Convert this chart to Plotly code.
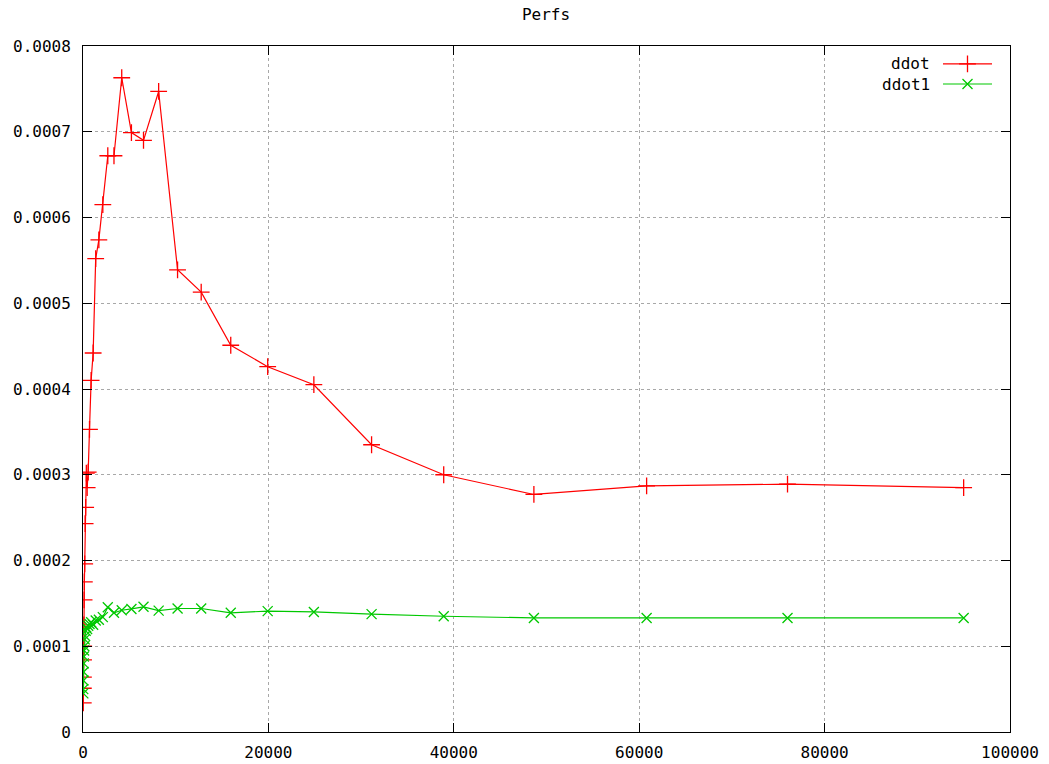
import plotly.graph_objects as go

# ---- data ----
sizes = [30, 38, 48, 60, 75, 94, 118, 147, 184, 230, 287, 359, 449, 561, 701, 876,
         1095, 1369, 1711, 2139, 2674, 3342, 4178, 5223, 6528, 8161, 10201, 12751,
         15938, 19923, 24904, 31130, 38912, 48640, 60800, 76000, 95000]
ddot = [0.000034, 0.000051, 0.000064, 0.000084, 0.000100, 0.000125, 0.000154, 0.000175,
        0.000196, 0.000243, 0.000262, 0.000302, 0.000285, 0.000303, 0.000353, 0.000410,
        0.000442, 0.000552, 0.000574, 0.000615, 0.000672, 0.000672, 0.000763, 0.000699,
        0.000690, 0.000747, 0.000539, 0.000513, 0.000451, 0.000426, 0.000405, 0.000335,
        0.000300, 0.000277, 0.000287, 0.000289, 0.000285]
ddot1 = [0.000050, 0.000045, 0.000060, 0.000070, 0.000080, 0.000088, 0.000095, 0.000100,
         0.000108, 0.000112, 0.000118, 0.000122, 0.000120, 0.000124, 0.000126, 0.000128,
         0.000125, 0.000130, 0.000131, 0.000134, 0.0001455, 0.000139, 0.000142, 0.0001435,
         0.000146, 0.0001415, 0.000144, 0.000144, 0.000139, 0.000141, 0.000140, 0.0001375,
         0.000135, 0.000133, 0.000133, 0.000133, 0.000133]
series_names = ["ddot", "ddot1"]
x_ticks = [0, 20000, 40000, 60000, 80000, 100000]
x_tick_labels = ["0", "20000", "40000", "60000", "80000", "100000"]
y_ticks = [0, 0.0001, 0.0002, 0.0003, 0.0004, 0.0005, 0.0006, 0.0007, 0.0008]
y_tick_labels = ["0", "0.0001", "0.0002", "0.0003", "0.0004", "0.0005", "0.0006", "0.0007", "0.0008"]
title = "Perfs"

RED = "#ff0000"
GREEN = "#00c800"
FONT = "DejaVu Sans Mono"

fig = go.Figure()
fig.add_trace(go.Scatter(x=sizes, y=ddot, mode="lines+markers", name=series_names[0],
                         line=dict(color=RED, width=1.2),
                         marker=dict(symbol="cross-thin-open", size=12, color=RED,
                                     line=dict(color=RED, width=1.3)),
                         showlegend=False))
fig.add_trace(go.Scatter(x=sizes, y=ddot1, mode="lines+markers", name=series_names[1],
                         line=dict(color=GREEN, width=1.2),
                         marker=dict(symbol="x-thin-open", size=10, color=GREEN,
                                     line=dict(color=GREEN, width=1.3)),
                         showlegend=False))

# custom gnuplot-style key (text right-aligned, sample on the right) on an overlay axis
key_x = [0.9277, 0.9806]
key_y = [0.9738, 0.9446]
colors = [RED, GREEN]
symbols = ["cross-thin-open", "x-thin-open"]
msizes = [12, 10]
for i in range(2):
    fig.add_trace(go.Scatter(x=key_x, y=[key_y[i]] * 2, mode="lines", xaxis="x2", yaxis="y2",
                             line=dict(color=colors[i], width=1.2), showlegend=False,
                             hoverinfo="skip"))
    fig.add_trace(go.Scatter(x=[sum(key_x) / 2], y=[key_y[i]], mode="markers", xaxis="x2",
                             yaxis="y2", marker=dict(symbol=symbols[i], size=msizes[i],
                                                     color=colors[i],
                                                     line=dict(color=colors[i], width=1.3)),
                             showlegend=False, hoverinfo="skip"))
    fig.add_annotation(x=key_x[0] - 0.012, y=key_y[i], xref="x2", yref="y2",
                       text=series_names[i], showarrow=False, xanchor="right",
                       yanchor="middle", font=dict(family=FONT, size=16, color="black"))

axis_common = dict(showline=True, linecolor="black", linewidth=1, mirror="ticks",
                   ticks="inside", ticklen=9, tickcolor="black", tickwidth=1,
                   showgrid=True, gridcolor="#a8a8a8", griddash="dot", gridwidth=1,
                   zeroline=False, automargin=False,
                   tickfont=dict(family=FONT, size=16, color="black"))

fig.update_layout(
    width=1049, height=764,
    margin=dict(l=83, r=39, t=46, b=32),
    paper_bgcolor="white", plot_bgcolor="white",
    title=dict(text=title, x=0.5205, xanchor="center", y=0.981, yanchor="middle",
               font=dict(family=FONT, size=16, color="black")),
    xaxis=dict(range=[0, 100000], tickvals=x_ticks, ticktext=x_tick_labels,
               ticklabelstandoff=6, **axis_common),
    yaxis=dict(range=[0, 0.0008], tickvals=y_ticks, ticktext=y_tick_labels,
               ticklabelstandoff=8, **axis_common),
    xaxis2=dict(range=[0, 1], overlaying="x", visible=False, fixedrange=True),
    yaxis2=dict(range=[0, 1], overlaying="y", visible=False, fixedrange=True),
    showlegend=False,
)

fig.write_html("out.html", config={"displayModeBar": False},
               post_script="document.body.style.margin='0';")
